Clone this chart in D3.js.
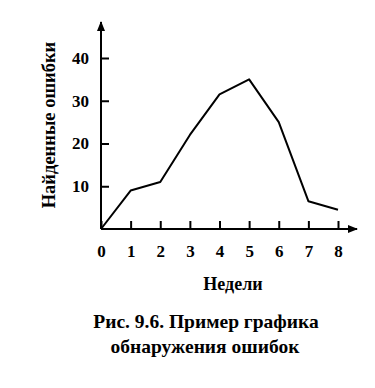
<!DOCTYPE html>
<html>
<head>
<meta charset="utf-8">
<script src="https://cdn.jsdelivr.net/npm/d3@7"></script>
<style>
  body { margin: 0; background: #fff; }
</style>
</head>
<body>
<div id="chart"></div>
<script>
// data
const weeks = [0, 1, 2, 3, 4, 5, 6, 7, 8];
const errors = [0, 9, 11, 22, 31.5, 35, 25, 6.5, 4.5];
const yTicks = [10, 20, 30, 40];

const width = 375, height = 388;
const serif = "'Liberation Serif', 'Times New Roman', serif";

const svg = d3.select("#chart").append("svg")
    .attr("width", width)
    .attr("height", height);

const x = d3.scaleLinear().domain([0, 8]).range([101, 338]);
const y = d3.scaleLinear().domain([0, 40]).range([229, 58]);

// arrow head
svg.append("defs").append("marker")
    .attr("id", "arrow")
    .attr("viewBox", "0 0 10 10")
    .attr("refX", 9).attr("refY", 5)
    .attr("markerWidth", 5).attr("markerHeight", 5)
    .attr("orient", "auto")
    .append("path")
    .attr("d", "M0,1 L10,5 L0,9 Z")
    .attr("fill", "#000");

// axis lines with arrows
svg.append("line")
    .attr("x1", x(0)).attr("y1", y(0))
    .attr("x2", 357).attr("y2", y(0))
    .attr("stroke", "#000").attr("stroke-width", 2)
    .attr("marker-end", "url(#arrow)");

svg.append("line")
    .attr("x1", x(0)).attr("y1", y(0))
    .attr("x2", x(0)).attr("y2", 22)
    .attr("stroke", "#000").attr("stroke-width", 2)
    .attr("marker-end", "url(#arrow)");

// x axis (ticks pointing up)
const xAxis = svg.append("g")
    .attr("transform", `translate(0, ${y(0)})`)
    .call(d3.axisBottom(x).tickValues(weeks).tickFormat(d3.format("d"))
        .tickSizeInner(-8).tickSizeOuter(0).tickPadding(16));
xAxis.select(".domain").remove();
xAxis.selectAll(".tick line").attr("stroke-width", 2);

// y axis (ticks pointing right)
const yAxis = svg.append("g")
    .attr("transform", `translate(${x(0)}, 0)`)
    .call(d3.axisLeft(y).tickValues(yTicks)
        .tickSizeInner(-8).tickSizeOuter(0).tickPadding(12));
yAxis.select(".domain").remove();
yAxis.selectAll(".tick line").attr("stroke-width", 2);

svg.selectAll(".tick text")
    .style("font-family", serif)
    .style("font-size", "17px")
    .style("font-weight", "bold")
    .style("fill", "#000");

// data line
const line = d3.line()
    .x((d, i) => x(weeks[i]))
    .y(d => y(d));

svg.append("path")
    .datum(errors)
    .attr("d", line)
    .attr("fill", "none")
    .attr("stroke", "#000")
    .attr("stroke-width", 2)
    .attr("stroke-linejoin", "round");

// axis titles
svg.append("text")
    .attr("transform", "translate(55, 125) rotate(-90)")
    .attr("text-anchor", "middle")
    .style("font-family", serif)
    .style("font-size", "18.5px")
    .style("font-weight", "bold")
    .text("Найденные ошибки");

svg.append("text")
    .attr("x", 233).attr("y", 290)
    .attr("text-anchor", "middle")
    .style("font-family", serif)
    .style("font-size", "18px")
    .style("font-weight", "bold")
    .text("Недели");

// caption
const cap = svg.append("text")
    .attr("x", 206).attr("y", 328)
    .attr("text-anchor", "middle")
    .style("font-family", serif)
    .style("font-size", "19.5px")
    .style("font-weight", "bold");
cap.append("tspan").text("Рис. 9.6.");
cap.append("tspan").text(" Пример графика");

svg.append("text")
    .attr("x", 205).attr("y", 353)
    .attr("text-anchor", "middle")
    .style("font-family", serif)
    .style("font-size", "19.5px")
    .style("font-weight", "bold")
    .text("обнаружения ошибок");
</script>
</body>
</html>
